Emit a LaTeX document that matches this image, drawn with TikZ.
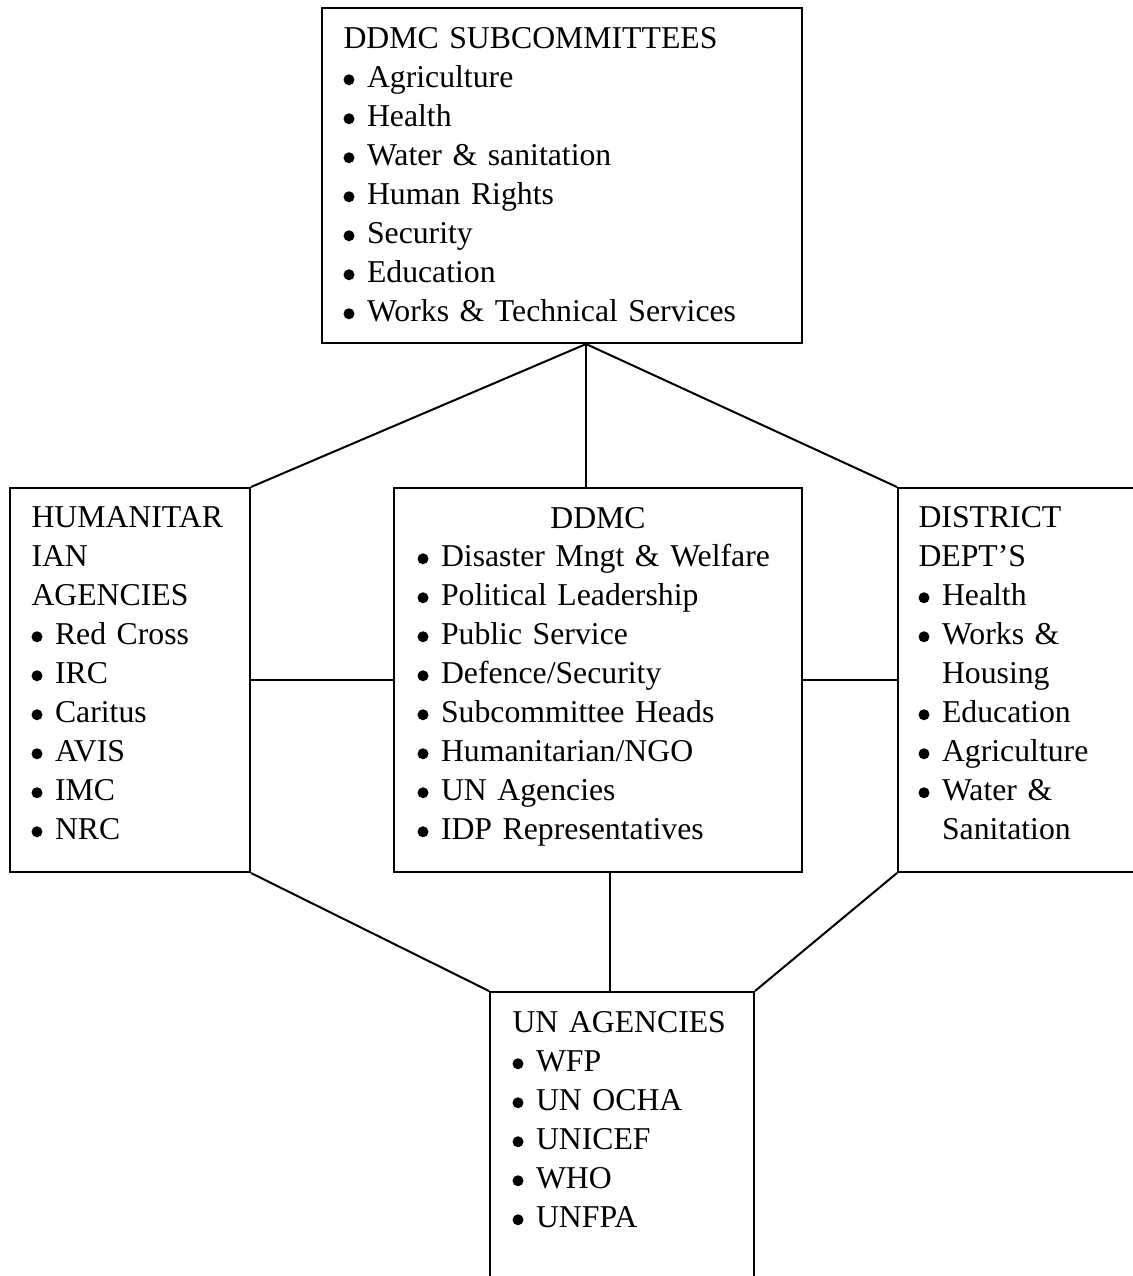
\documentclass[tikz,border=0pt]{standalone}
\usepackage{fontspec}
\setmainfont{Liberation Serif}
\usetikzlibrary{calc}
\newcommand{\bulletdot}{\tikz[baseline=0pt]\fill[black] (0pt,0pt) (2.2pt,2.9pt) circle[radius=2.2pt];}
\newcommand{\bl}[1]{\makebox[9.4pt][l]{\bulletdot}#1}
\newcommand{\cont}[1]{\hspace*{9.4pt}#1}
\begin{document}
\begin{tikzpicture}[x=0.4pt,y=-0.4pt,
  box/.style={draw,line width=0.8pt,rectangle,inner sep=0pt},
  conn/.style={line width=0.8pt},
  txt/.style={anchor=base west,inner sep=0pt,text width=300pt,align=left,
    font=\fontsize{12.7pt}{15.6pt}\selectfont}]
\clip (0,0) rectangle (1133,1276);
\fill[white] (0,0) rectangle (1133,1276);
% boxes
\node[box,minimum width=192pt,minimum height=134pt] (top) at (562,175.5) {};
\node[box,minimum width=96pt,minimum height=153.6pt] (hum) at (130,680) {};
\node[box,minimum width=163.2pt,minimum height=153.6pt] (mid) at (598,680) {};
\node[box,minimum width=96.8pt,minimum height=153.6pt] (dist) at (1019,680) {};
\node[box,minimum width=105.6pt,minimum height=119.2pt] (un) at (622,1141) {};
% texts
\node[txt] (toptxt) at (343,48) {DDMC SUBCOMMITTEES\\
\bl{Agriculture}\\
\bl{Health}\\
\bl{Water \& sanitation}\\
\bl{Human Rights}\\
\bl{Security}\\
\bl{Education}\\
\bl{Works \& Technical Services}};
\node[txt] (humtxt) at (31,527) {HUMANITAR\\
IAN\\
AGENCIES\\
\bl{Red Cross}\\
\bl{IRC}\\
\bl{Caritus}\\
\bl{AVIS}\\
\bl{IMC}\\
\bl{NRC}};
\node[anchor=base,inner sep=0pt,font=\fontsize{12.7pt}{15.6pt}\selectfont] (midtitle) at (598,528) {DDMC};
\node[txt] (midtxt) at (417,566) {\bl{Disaster Mngt \& Welfare}\\
\bl{Political Leadership}\\
\bl{Public Service}\\
\bl{Defence/Security}\\
\bl{Subcommittee Heads}\\
\bl{Humanitarian/NGO}\\
\bl{UN Agencies}\\
\bl{IDP Representatives}};
\node[txt] (disttxt) at (918,527) {DISTRICT\\
DEPT’S\\
\bl{Health}\\
\bl{Works \&}\\
\cont{Housing}\\
\bl{Education}\\
\bl{Agriculture}\\
\bl{Water \&}\\
\cont{Sanitation}};
\node[txt] (untxt) at (512,1032) {UN AGENCIES\\
\bl{WFP}\\
\bl{UN OCHA}\\
\bl{UNICEF}\\
\bl{WHO}\\
\bl{UNFPA}};
% connectors
\coordinate (apex) at ($(top.south west)!0.55!(top.south east)$);
\coordinate (midbot) at ($(mid.south west)!0.5294!(mid.south east)$);
\draw[conn] (apex) -- (apex |- mid.north);
\draw[conn] (apex) -- (hum.north east);
\draw[conn] (apex) -- (dist.north west);
\draw[conn] (hum.east) -- (mid.west);
\draw[conn] (mid.east) -- (dist.west);
\draw[conn] (midbot) -- (midbot |- un.north);
\draw[conn] (hum.south east) -- (un.north west);
\draw[conn] (dist.south west) -- (un.north east);
\end{tikzpicture}
\end{document}
